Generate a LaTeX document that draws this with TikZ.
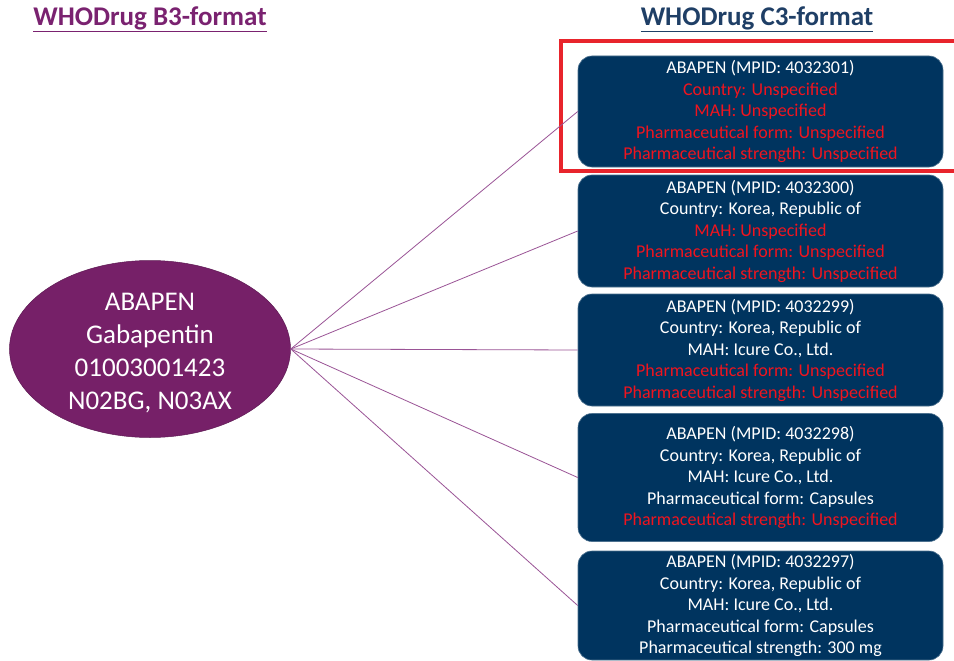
\documentclass[tikz,border=0pt]{standalone}
\usepackage{fontspec}
\setmainfont{Carlito}
\usetikzlibrary{shapes.geometric}
\definecolor{ttlpurple}{HTML}{7A2270}
\definecolor{ttlblue}{HTML}{1F3F66}
\definecolor{ellfill}{HTML}{762068}
\definecolor{boxfill}{HTML}{00345F}
\definecolor{redtxt}{HTML}{F0141E}
\definecolor{redframe}{HTML}{E8242C}
\definecolor{linecol}{HTML}{9A5496}
\newcommand{\rd}[1]{\textcolor{redtxt}{#1}}
\begin{document}
\begin{tikzpicture}[x=1pt,y=-1pt,
  mpbox/.style={draw=boxfill!70!white, line width=0.6pt, fill=boxfill, rounded corners=14pt,
    minimum width=365pt, inner sep=0pt, align=center, text=white,
    font=\fontsize{18}{21.5}\selectfont},
  conn/.style={draw=linecol, line width=0.8pt},
  ttl/.style={font=\fontsize{27}{30}\selectfont\bfseries, inner sep=0pt}]
\useasboundingbox (0,0) rectangle (954,661);
\fill[white] (0,0) rectangle (954,661);

\node[ttl, text=ttlpurple] (t1) at (150,19) {\underline{WHODrug B3-format}};
\node[ttl, text=ttlblue] (t2) at (757,19) {\underline{WHODrug C3-format}};

\node[ellipse, fill=ellfill, draw=ellfill!80!black, line width=0.5pt, minimum width=281pt, minimum height=177pt,
  inner sep=0pt] (ell) at (150,349) {};
\node[inner sep=0pt, align=center, text=white, font=\fontsize{27}{33}\selectfont] (elltxt) at (150,353)
  {ABAPEN\\Gabapentin\\01003001423\\N02BG, N03AX};

\node[mpbox, minimum height=111pt] (b1) at (760.5,111.5)
  {ABAPEN (MPID: 4032301)\\\rd{Country: Unspecified}\\\rd{MAH: Unspecified}\\\rd{Pharmaceutical form: Unspecified}\\\rd{Pharmaceutical strength: Unspecified}};
\node[mpbox, minimum height=112pt] (b2) at (760.5,231)
  {ABAPEN (MPID: 4032300)\\Country: Korea, Republic of\\\rd{MAH: Unspecified}\\\rd{Pharmaceutical form: Unspecified}\\\rd{Pharmaceutical strength: Unspecified}};
\node[mpbox, minimum height=112pt] (b3) at (760.5,350)
  {ABAPEN (MPID: 4032299)\\Country: Korea, Republic of\\MAH: Icure Co., Ltd.\\\rd{Pharmaceutical form: Unspecified}\\\rd{Pharmaceutical strength: Unspecified}};
\node[mpbox, minimum height=128pt] (b4) at (760.5,477.5)
  {ABAPEN (MPID: 4032298)\\Country: Korea, Republic of\\MAH: Icure Co., Ltd.\\Pharmaceutical form: Capsules\\\rd{Pharmaceutical strength: Unspecified}};
\node[mpbox, minimum height=109pt] (b5) at (760.5,605.5)
  {ABAPEN (MPID: 4032297)\\Country: Korea, Republic of\\MAH: Icure Co., Ltd.\\Pharmaceutical form: Capsules\\Pharmaceutical strength: 300 mg};

\draw[redframe, line width=4pt] (561,41) rectangle (962,171);

\foreach \b in {b1,b2,b3,b4,b5} \draw[conn] (ell.east) -- (\b.west);
\end{tikzpicture}
\end{document}
